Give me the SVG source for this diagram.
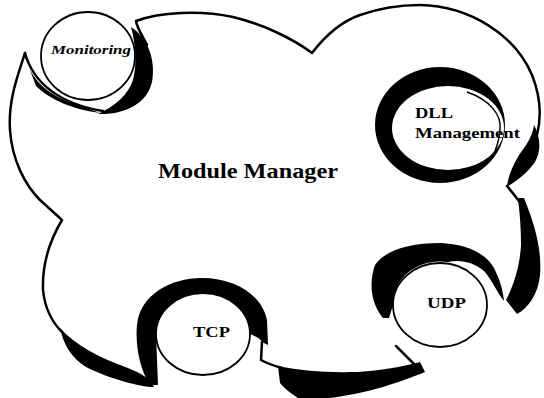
<svg xmlns="http://www.w3.org/2000/svg" width="544" height="398" viewBox="0 0 544 398">
<style>
.ln{fill:none;stroke:#000;stroke-width:2.5;stroke-linejoin:round;stroke-linecap:round}
.blk{fill:#000}
.bub{fill:#fff;stroke:#000;stroke-width:1.8}
.thin{fill:none;stroke:#000;stroke-width:1.5}
.t{font-family:"Liberation Serif","Times New Roman",serif;font-weight:bold;fill:#000}
</style>
<rect width="544" height="398" fill="#fff"/>
<g id="module-manager">
  <path class="ln" d="M147,45 C142,35 137,28 136,21 C160,12 200,10 233,17 C262,24 292,38 312,53 C325,36 340,22 360,15 C380,8 400,5 420,5 C470,6 515,35 532,75 C540,95 542,115 537,135"/>
  <path class="blk" d="M534,125 C541,138 541,152 535,162 C528,172 518,180 507,187 C508,175 515,160 524,148 C530,140 533,132 534,125 Z"/>
  <path class="ln" d="M507,186 C512,192 517,198 521,204"/>
  <path class="blk" d="M518,198 L524,198 C535,225 542,250 540,275 C538,295 528,308 517,314 L506,300 C514,285 520,265 521,245 C521,230 520,215 518,198 Z"/>
  <path class="ln" d="M25,53 C18,75 8,100 10,130 C12,160 25,185 40,200 L62,220 C50,240 42,262 43,290 C45,310 53,323 62,332"/>
  <path class="blk" d="M60,328 C75,345 100,358 128,368 C140,373 150,378 154,387 C140,387 110,379 86,367 C72,358 64,346 60,328 Z"/>
  <path class="blk" d="M278,366 C300,371 340,374 370,371 C390,369 405,366 420,362 L425,372 C400,382 370,393 330,398 L298,398 C290,393 284,388 280,383 Z"/>
  <path class="ln" d="M262,342 L261,360 C268,364 275,366 282,368"/>
  <path class="ln" d="M396,346 C402,352 406,356 410,360 L418,368"/>
  <text class="t" x="158" y="178" font-size="22" textLength="180" lengthAdjust="spacingAndGlyphs">Module Manager</text>
</g>
<g id="monitoring">
  <path class="ln" d="M25,53 C33,83 60,104 103,111"/>
  <path class="blk" d="M30,70 C38,86 55,98 75,104 L100,113 C75,110 50,100 36,86 Z"/>
  <ellipse class="bub" cx="88" cy="56" rx="47" ry="44"/>
  <path class="blk" d="M131,27 C148,38 156,60 152,82 C147,104 124,115 98,114 C115,106 128,95 133,80 C137,65 136,45 131,27 Z"/>
  <text class="t" x="51" y="54" font-size="13.5" font-style="italic" textLength="80" lengthAdjust="spacingAndGlyphs">Monitoring</text>
</g>
<g id="dll-management">
  <ellipse class="blk" cx="440" cy="125" rx="65" ry="58"/>
  <ellipse fill="#fff" cx="448" cy="128" rx="56" ry="42"/>
  <path class="thin" d="M467,92 C490,100 502,115 500,130 C499,142 496,150 492,157"/>
  <path class="thin" d="M387,134 C389,126 391,120 394,115"/>
  <text class="t" x="415" y="118" font-size="15" textLength="38" lengthAdjust="spacingAndGlyphs">DLL</text>
  <text class="t" x="415" y="138" font-size="15" textLength="105" lengthAdjust="spacingAndGlyphs">Management</text>
</g>
<g id="udp">
  <ellipse class="bub" cx="440" cy="305" rx="47" ry="42"/>
  <path class="blk" d="M383,318 C372,305 368,285 375,265 C385,250 410,243 440,243 C465,244 485,252 494,268 C500,280 503,290 504,301 C498,294 492,280 484,271 C474,262 460,259 448,262 A47,42 0 0 0 393,305 L389,318 Z"/>
  <text class="t" x="427" y="308" font-size="15" textLength="39" lengthAdjust="spacingAndGlyphs">UDP</text>
</g>
<g id="tcp">
  <ellipse class="bub" cx="203" cy="334" rx="47" ry="41"/>
  <path class="blk" d="M150,385 C140,370 135,345 137,325 C140,295 170,278 202,278 C235,278 262,295 267,320 L268,345 L262,342 C260,338 254,336 250,334 A47,41 0 0 0 156,334 L158,385 Z"/>
  <text class="t" x="193" y="337" font-size="15" textLength="37" lengthAdjust="spacingAndGlyphs">TCP</text>
</g>
</svg>
